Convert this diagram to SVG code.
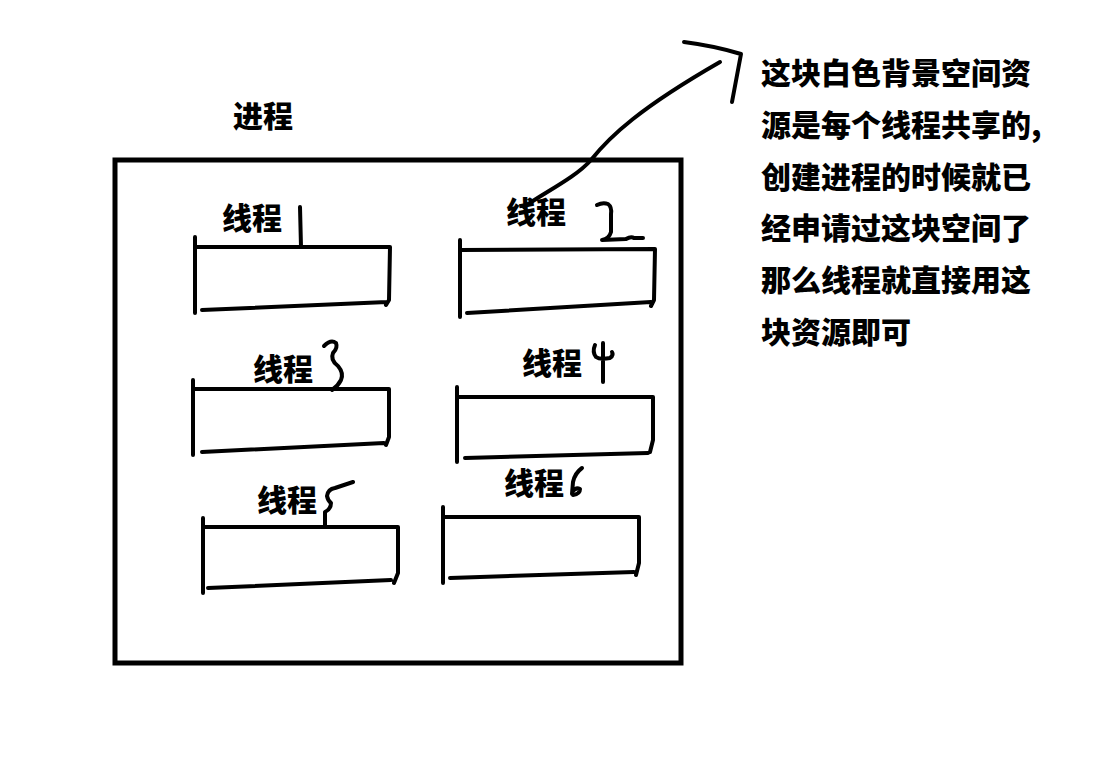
<svg xmlns="http://www.w3.org/2000/svg" width="1107" height="767" viewBox="0 0 1107 767">
<style>
.t{font-family:"Noto Sans CJK SC","Noto Sans CJK JP",sans-serif;font-weight:900;font-size:30px;fill:#000}
.c{text-anchor:middle}
.s{fill:none;stroke:#000;stroke-width:4;stroke-linecap:round;stroke-linejoin:round}
.b{fill:none;stroke:#000;stroke-width:5}
</style>
<rect width="1107" height="767" fill="#fff"/>
<g id="process">
<rect class="b" x="115" y="160" width="566" height="503"/>
<text class="t c" x="263" y="127">进程</text>
</g>
<g id="thread1">
<path class="s" d="M195,237 L195,313 M195,247 L390,247 L389,300 L386,305 M387,302 L202,310 M300,207 L301,247"/>
<text class="t c" x="252" y="229">线程</text>
</g>
<g id="thread2">
<path class="s" d="M460,240 L460,317 M460,250 L655,249 L654,300 L651,306 M651,302 L467,313"/>
<path class="s" d="M597,205 Q603,202 608,204 Q612,207 611,214 L611,232 Q609,239 602,240 L626,239 Q631,236 634,238 L643,238"/>
<text class="t c" x="536" y="223">线程</text>
</g>
<g id="thread3">
<path class="s" d="M193,380 L193,455 M193,389 L389,389 L389,437 L386,445 M384,443 L202,452"/>
<path class="s" d="M324,346 Q331,339 336,343 Q338,348 333,353 Q330,360 338,366 Q344,373 341,380 Q338,386 332,390"/>
<text class="t c" x="283" y="380">线程</text>
</g>
<g id="thread4">
<path class="s" d="M457,387 L457,462 M457,397 L653,397 L653,440 L650,452 M648,453 L465,458"/>
<path class="s" d="M603,343 L603,382 M595,345 Q592,352 596,357 Q600,360 610,358 Q614,355 612,352"/>
<text class="t c" x="552" y="374">线程</text>
</g>
<g id="thread5">
<path class="s" d="M203,518 L203,593 M203,527 L398,527 L398,573 L394,583 M391,580 L208,588"/>
<path class="s" d="M353,482 L335,488 Q328,489 327,496 Q328,501 331,503 Q331,509 325,512 L325,526"/>
<text class="t c" x="287" y="511">线程</text>
</g>
<g id="thread6">
<path class="s" d="M443,507 L443,583 M443,517 L639,517 L639,563 L636,575 M634,572 L450,578"/>
<path class="s" d="M582,468 Q575,473 573,482 L572,494 M573,491 Q576,487 580,489 Q580,494 573,495"/>
<text class="t c" x="534" y="494">线程</text>
</g>
<g id="connectors">
<path class="s" d="M524,207 C545,192 575,178 591,160 C610,136 640,108 720,62"/>
<path class="s" d="M684,42 Q715,46 741,54 L732,102"/>
</g>
<g id="note">
<text class="t" x="761" y="84">这块白色背景空间资</text>
<text class="t" x="761" y="136">源是每个线程共享的,</text>
<text class="t" x="761" y="188">创建进程的时候就已</text>
<text class="t" x="761" y="239">经申请过这块空间了</text>
<text class="t" x="761" y="291">那么线程就直接用这</text>
<text class="t" x="761" y="343">块资源即可</text>
</g>
</svg>
